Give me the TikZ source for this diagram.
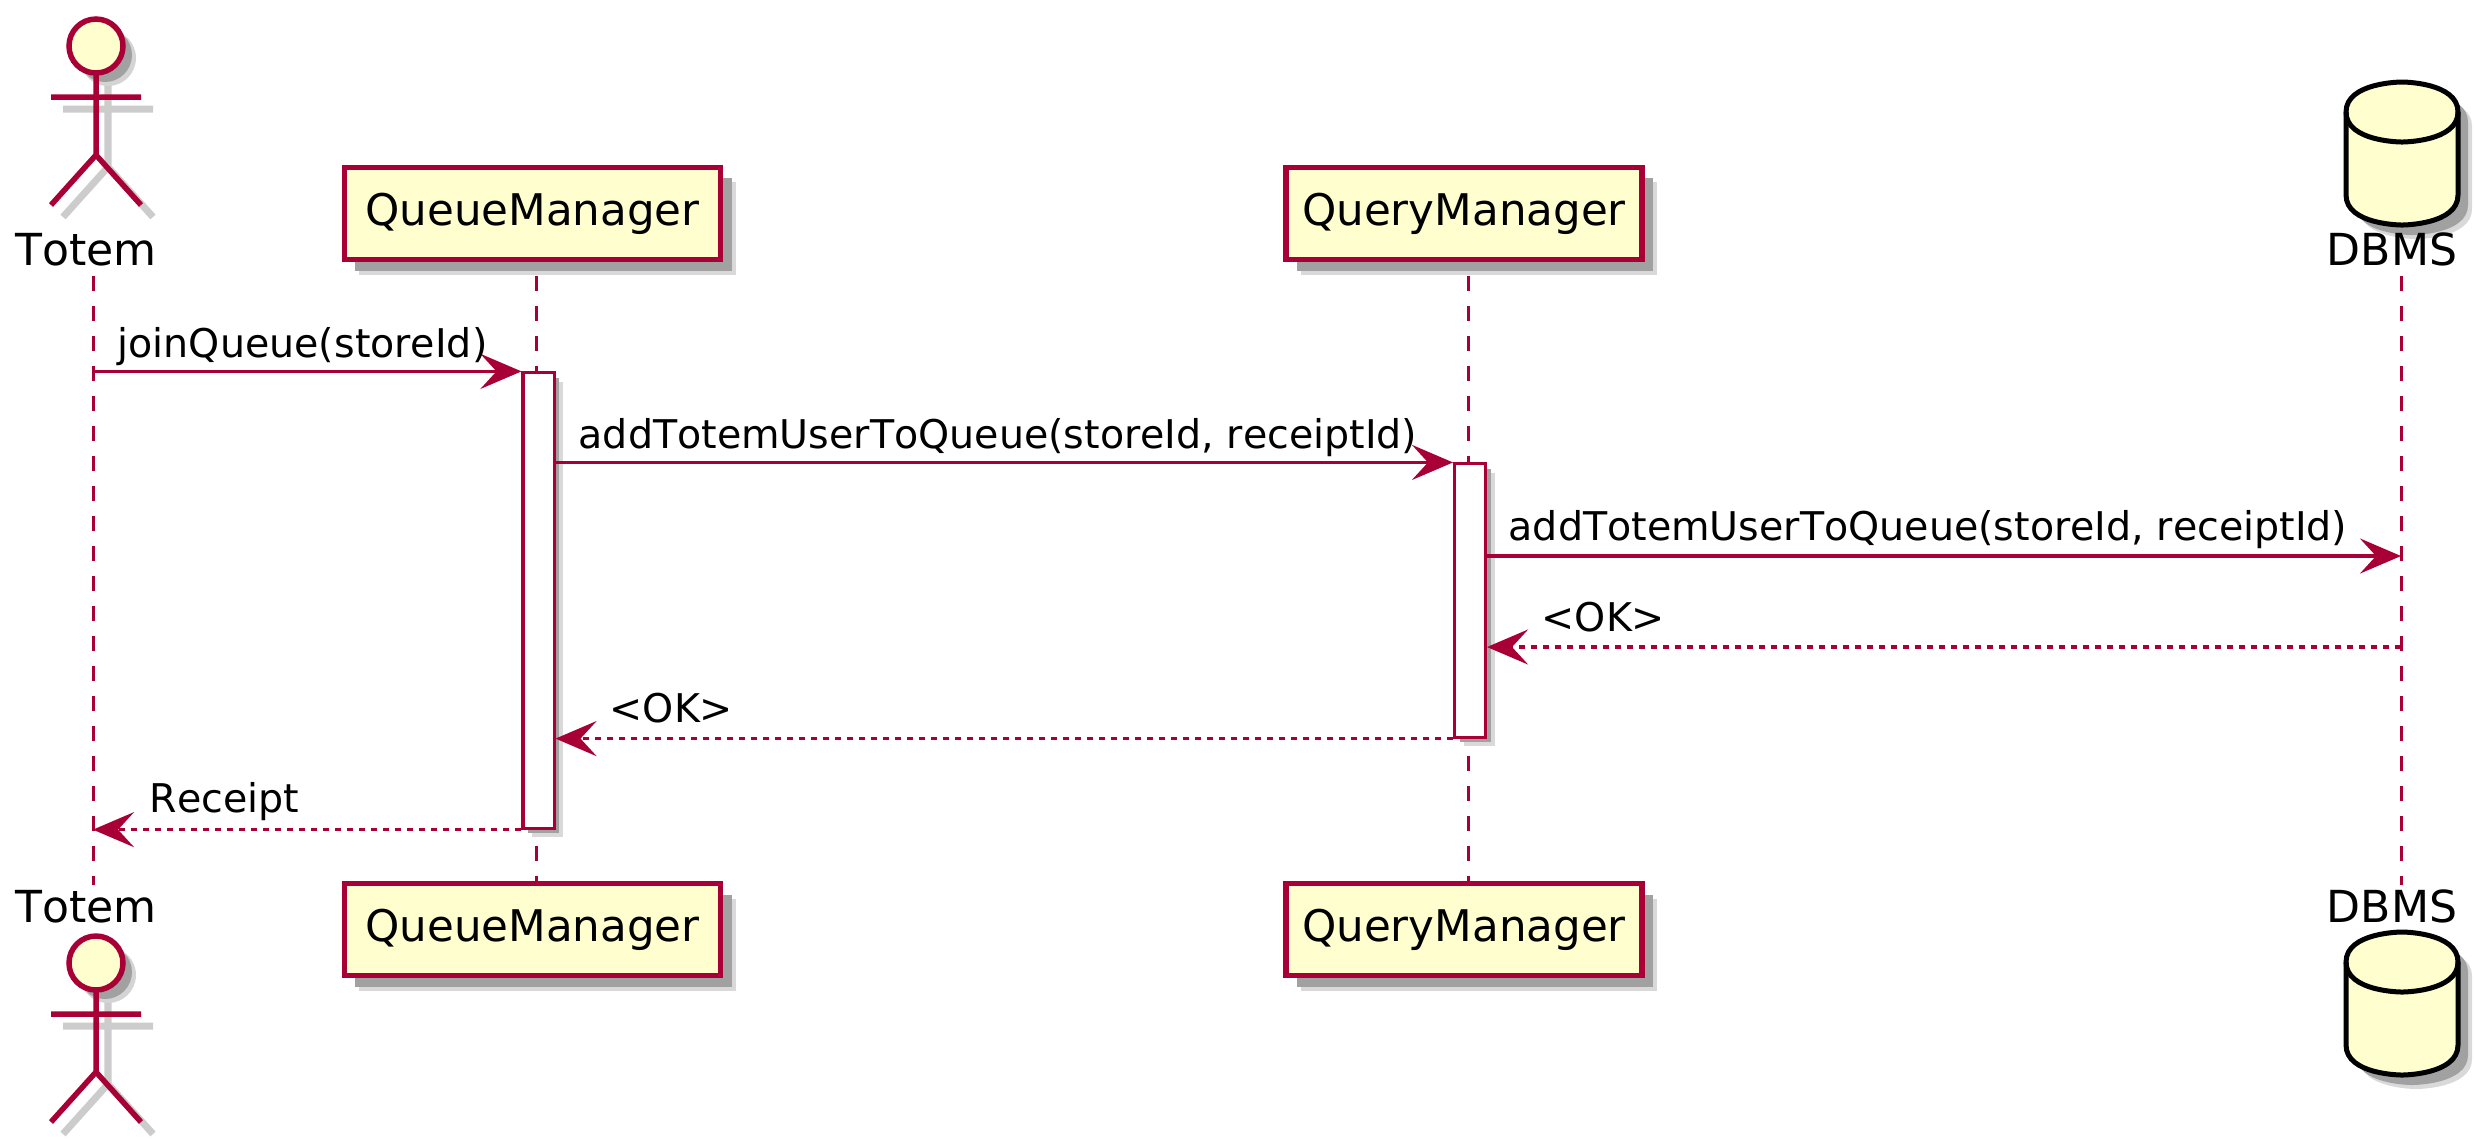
\documentclass[tikz,border=0pt]{standalone}
\usepackage{fontspec}
\setmainfont[Kerning=Off]{DejaVu Sans}
\usepackage{xcolor}
\usepackage{tikz}
\usetikzlibrary{arrows.meta,shapes,positioning,calc,shadows}

\definecolor{umlred}{HTML}{A80036}
\definecolor{umlfill}{HTML}{FEFECE}

\tikzset{
  softshade/.style={
    general shadow={shadow xshift=#1+0.04cm,shadow yshift=-#1-0.04cm,fill=black!15,opacity=1},
    general shadow={shadow xshift=#1,shadow yshift=-#1,fill=black!37,opacity=1}},
  lane/.style={draw=umlred,line width=0.03cm,dash pattern=on 0.15cm off 0.15cm},
  msg/.style={draw=umlred,line width=0.033cm,-{Stealth[length=0.41cm,width=0.35cm,inset=0.16cm]}},
  ret/.style={msg,dash pattern=on 0.06cm off 0.06cm},
  lbl/.style={anchor=base west,inner sep=0,font=\fontsize{11.25}{13}\selectfont},
  who/.style={anchor=base,inner sep=0,font=\fontsize{12.55}{14}\selectfont},
  part/.style={draw=umlred,fill=umlfill,line width=0.055cm,minimum height=0.92cm,inner sep=0,
               font=\fontsize{12.4}{14}\selectfont,softshade=0.11cm},
  act/.style={draw=umlred,fill=white,line width=0.03cm,minimum width=0.31cm,inner sep=0,
              softshade=0.05cm},
  pics/stick/.style={code={
    \draw[black!20,line width=0.07cm,shift={(12,12)}] (0,27) -- (0,109) (-45,51) -- (45,51)
      (-45,159) -- (0,109) -- (45,159);
    \fill[black!17] (12,12) circle [radius=28];
    \fill[black!37] (9,9) circle [radius=27];
    \draw[umlred,fill=umlfill,line width=0.055cm] (0,0) circle [radius=27];
    \draw[umlred,line width=0.055cm] (0,27) -- (0,109) (-45,51) -- (45,51)
      (-45,159) -- (0,109) -- (45,159);
  }},
  pics/store/.style={code={
    \def\cylpath{(-56,30) .. controls (-56,0) and (0,0) .. (0,0) .. controls (0,0) and (56,0) .. (56,30)
      -- (56,113) .. controls (56,143) and (0,143) .. (0,143) .. controls (0,143) and (-56,143) .. (-56,113) -- cycle}
    \fill[black!15,shift={(14,14)}] \cylpath;
    \fill[black!37,shift={(10,10)}] \cylpath;
    \draw[black,fill=umlfill,line width=0.05cm] \cylpath;
    \draw[black,line width=0.05cm] (-56,30) .. controls (-56,60) and (0,60) .. (0,60)
      .. controls (0,60) and (56,60) .. (56,30);
  }}
}

\begin{document}
\begin{tikzpicture}[x=0.01cm,y=-0.01cm]
  \useasboundingbox (0,0) rectangle (2476,1138);
  % lifelines
  \coordinate (totemTop) at (93,276);
  \coordinate (totemEnd) at (93,885);
  \coordinate (queueTop) at (536,276);
  \coordinate (queueEnd) at (536,882);
  \coordinate (queryTop) at (1468,276);
  \coordinate (queryEnd) at (1468,882);
  \coordinate (dbmsTop) at (2401,276);
  \coordinate (dbmsEnd) at (2401,885);
  \draw[lane] (totemTop) -- (totemEnd);
  \draw[lane] (queueTop) -- (queueEnd);
  \draw[lane] (queryTop) -- (queryEnd);
  \draw[lane] (dbmsTop) -- (dbmsEnd);

  % heads
  \pic at (96,46) {stick};
  \node[who] (totemHead) at (86,265) {Totem};
  \node[part,minimum width=3.76cm] (queueHead) at (532.5,213.5) {QueueManager};
  \node[part,minimum width=3.56cm] (queryHead) at (1464,213.5) {QueryManager};
  \pic at (2402,82) {store};
  \node[who] (dbmsHead) at (2392,265) {DBMS};

  % feet
  \pic at (96,963) {stick};
  \node[who] (totemFoot) at (86,922) {Totem};
  \node[part,minimum width=3.76cm] (queueFoot) at (532.5,929.5) {QueueManager};
  \node[part,minimum width=3.56cm] (queryFoot) at (1464,929.5) {QueryManager};
  \pic at (2402,932) {store};
  \node[who] (dbmsFoot) at (2392,922) {DBMS};

  % activations
  \node[act,minimum height=4.55cm] (queueAct) at (538.5,600.5) {};
  \node[act,minimum height=2.73cm] (queryAct) at (1470,600.5) {};

  % messages
  \coordinate (dbmsCall) at (dbmsTop |- 0,556);
  \coordinate (dbmsBack) at (dbmsTop |- 0,647);
  \draw[msg] (totemTop |- queueAct.north west) -- (queueAct.north west);
  \draw[msg] (queueAct.east |- queryAct.north) -- (queryAct.north west);
  \draw[msg] (queryAct.east |- dbmsCall) -- (dbmsCall);
  \draw[ret] (dbmsBack) -- (queryAct.east |- dbmsBack);
  \draw[ret] (queryAct.south west) -- (queueAct.east |- queryAct.south);
  \draw[ret] (queueAct.south west) -- (totemTop |- queueAct.south);

  \node[lbl] (joinLbl) at (117,357) {joinQueue(storeId)};
  \node[lbl] (addLbl) at (578,448) {addTotemUserToQueue(storeId, receiptId)};
  \node[lbl] (addDbLbl) at (1508,540) {addTotemUserToQueue(storeId, receiptId)};
  \node[lbl] (okDbLbl) at (1541,631) {<OK>};
  \node[lbl] (okLbl) at (609,722) {<OK>};
  \node[lbl] (rcptLbl) at (149,812) {Receipt};
\end{tikzpicture}
\end{document}
